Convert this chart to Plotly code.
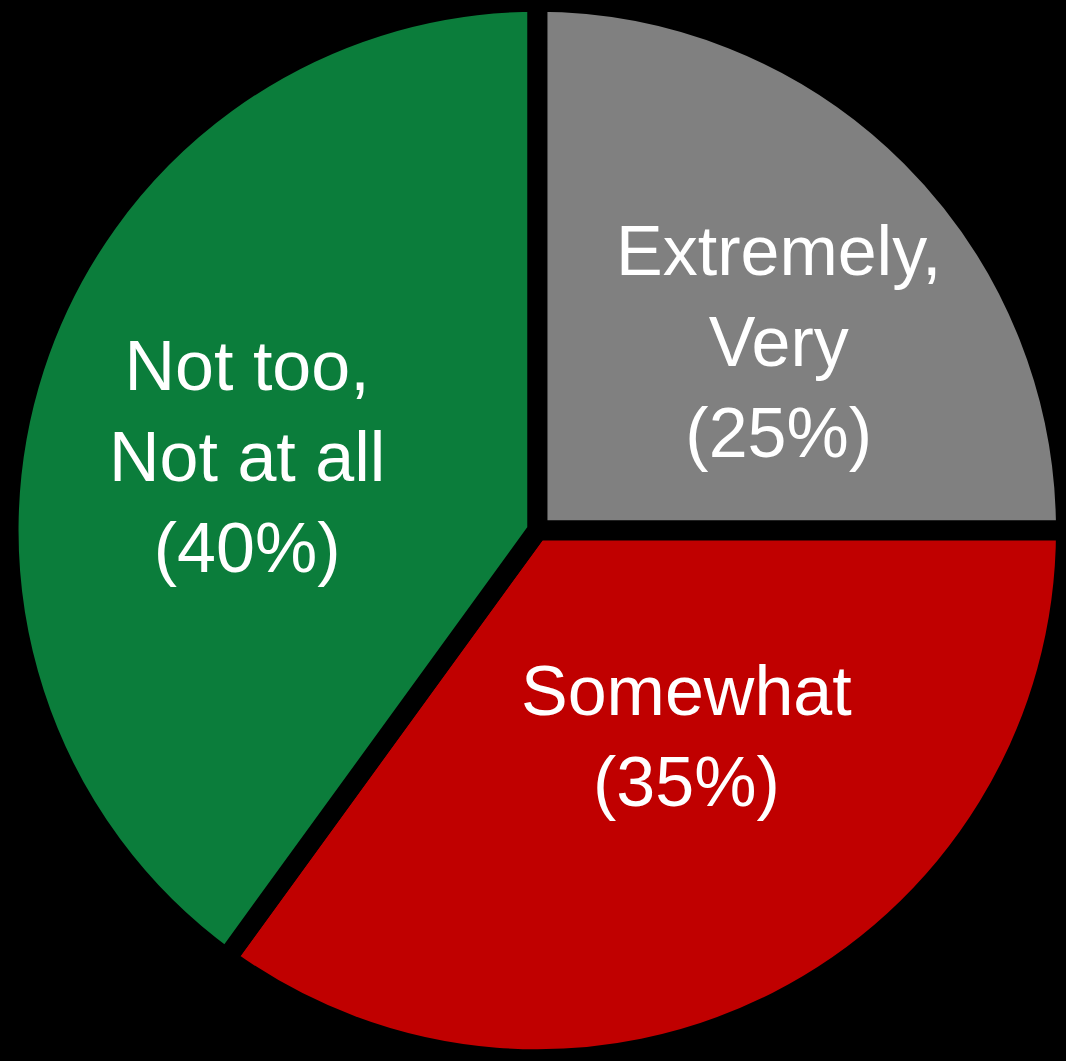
import plotly.graph_objects as go

labels = ["Extremely,<br>Very", "Somewhat", "Not too,<br>Not at all"]
values = [25, 35, 40]
colors = ["#808080", "#C00000", "#0B7D3B"]
label_pos = [(778, 342), (686, 736), (247, 457)]  # pixel centers of label blocks

W, H = 1066, 1061

fig = go.Figure(go.Pie(
    labels=labels,
    values=values,
    sort=False,
    direction="clockwise",
    rotation=0,
    marker=dict(colors=colors, line=dict(color="black", width=20)),
    textinfo="none",
    hoverinfo="label+percent",
    showlegend=False,
    domain=dict(x=[0.008, 1], y=[0, 1]),
))

for lab, val, (px, py) in zip(labels, values, label_pos):
    fig.add_annotation(
        x=px / W, y=1 - py / H, xref="paper", yref="paper",
        xanchor="center", yanchor="middle",
        text=f"{lab}<br>({val}%)", showarrow=False,
        font=dict(family="Liberation Sans, Arial", size=70, color="white"),
        align="center",
    )

fig.update_layout(
    width=W, height=H,
    margin=dict(l=0, r=0, t=0, b=0),
    paper_bgcolor="black", plot_bgcolor="black",
)

fig.write_html(
    "out.html",
    config={"displayModeBar": False},
    post_script="document.body.style.margin='0';document.body.style.padding='0';"
                "document.body.style.overflow='hidden';document.body.style.background='black';",
)
